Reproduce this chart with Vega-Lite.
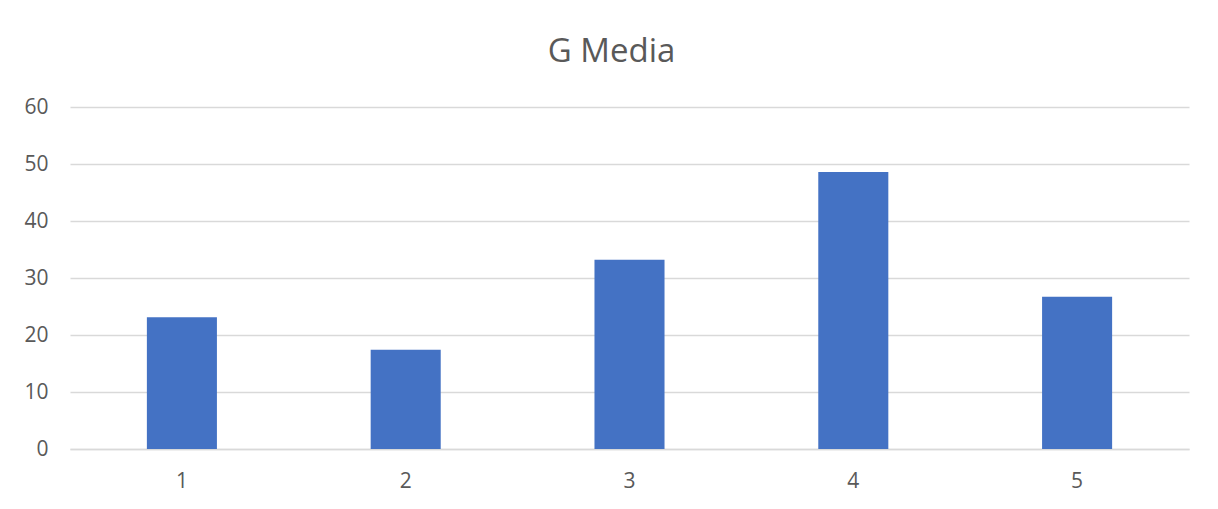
{
  "$schema": "https://vega.github.io/schema/vega-lite/v6.json",
  "autosize": {"type": "none"},
  "width": 1119,
  "height": 342,
  "padding": {"left": 70, "top": 107, "right": 29, "bottom": 60},
  "background": "white",
  "title": {
    "text": "G Media",
    "anchor": "middle",
    "font": "Open Sans",
    "fontSize": 33,
    "fontWeight": "normal",
    "color": "#595959",
    "offset": 27,
    "dx": -18
  },
  "data": {
    "values": [
      {"category": "1", "value": 23.1},
      {"category": "2", "value": 17.4},
      {"category": "3", "value": 33.2},
      {"category": "4", "value": 48.6},
      {"category": "5", "value": 26.7}
    ]
  },
  "mark": {"type": "bar", "color": "#4472C4"},
  "encoding": {
    "x": {
      "field": "category",
      "type": "ordinal",
      "scale": {"paddingInner": 0.687, "paddingOuter": 0.3435},
      "axis": {
        "title": null,
        "labelAngle": 0,
        "ticks": false,
        "domainColor": "#d9d9d9",
        "domainWidth": 1.5,
        "labelColor": "#595959",
        "labelFont": "Open Sans",
        "labelFontSize": 21,
        "labelPadding": 21
      }
    },
    "y": {
      "field": "value",
      "type": "quantitative",
      "scale": {"domain": [0, 60], "nice": false},
      "axis": {
        "title": null,
        "values": [0, 10, 20, 30, 40, 50, 60],
        "ticks": false,
        "domain": false,
        "gridColor": "#d9d9d9",
        "gridWidth": 1.5,
        "labelColor": "#595959",
        "labelFont": "Open Sans",
        "labelFontSize": 21,
        "labelPadding": 22
      }
    }
  },
  "config": {"view": {"stroke": null}}
}
